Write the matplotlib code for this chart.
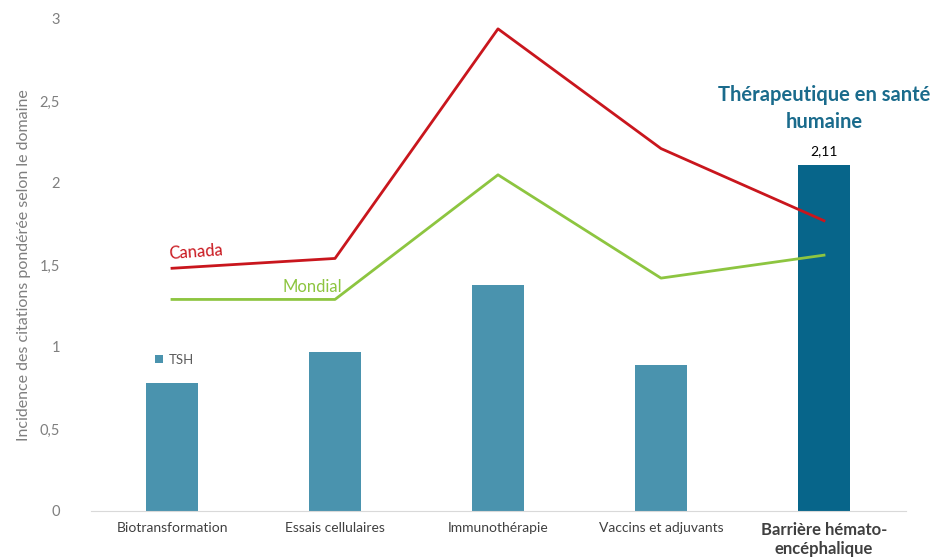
import numpy as np
import matplotlib.pyplot as plt

# donnees
categories = ["Biotransformation", "Essais cellulaires", "Immunothérapie",
              "Vaccins et adjuvants", "Barrière hémato-\nencéphalique"]
tsh = [0.78, 0.97, 1.38, 0.89, 2.11]
canada = [1.48, 1.54, 2.94, 2.21, 1.77]
mondial = [1.29, 1.29, 2.05, 1.42, 1.56]

bar_color = "#4A93AE"
hl_color = "#07658A"
red = "#C9161D"
green = "#8DC540"
grey = "#7F7F7F"

plt.rcParams['font.family'] = ['Lato', 'DejaVu Sans']

fig = plt.figure(figsize=(9.38, 5.58), dpi=100)
ax = fig.add_axes([90.5 / 938, 47 / 558, 815 / 938, 492 / 558])

x = np.arange(len(categories))
colors = [bar_color] * 4 + [hl_color]
bars = ax.bar(x, tsh, width=0.32, color=colors, label="TSH", zorder=2)
ax.plot(x, canada, color=red, lw=2, zorder=3)
ax.plot(x, mondial, color=green, lw=2, zorder=3)

ax.set_xlim(-0.5, 4.5)
ax.set_ylim(0, 3)
ax.set_yticks([0, 0.5, 1, 1.5, 2, 2.5, 3])
ax.set_yticklabels(["0", "0,5", "1", "1,5", "2", "2,5", "3"])
ax.set_xticks(x)
ax.set_xticklabels(categories)

for s in ["top", "right", "left"]:
    ax.spines[s].set_visible(False)
ax.spines["bottom"].set_color("#D9D9D9")
ax.tick_params(axis="y", length=0, labelsize=10.5, labelcolor=grey, pad=22)
ax.tick_params(axis="x", length=0, labelsize=10, labelcolor="#404040", pad=8)
lbls = ax.get_xticklabels()
lbls[-1].set_fontweight("bold")
lbls[-1].set_fontsize(12)
lbls[-1].set_color("#404040")

ax.set_ylabel("Incidence des citations pondérée selon le domaine", color=grey, fontsize=11.5, labelpad=6)

# etiquettes
ax.text(4, 2.11 + 0.05, "2,11", ha="center", va="bottom", fontsize=10, color="black")
ax.text(4, 2.31, "Thérapeutique en santé\nhumaine", ha="center", va="bottom",
        fontsize=14.5, fontweight="bold", color="#1A6B8C", linespacing=1.45)
ax.text(-0.02, 1.52, "Canada", color=red, fontsize=12, rotation=4, ha="left", va="bottom")
ax.text(0.68, 1.32, "Mondial", color=green, fontsize=12, ha="left", va="bottom")

ax.legend(handles=[bars[0]], labels=["TSH"], loc="upper left", bbox_to_anchor=(0.065, 1.0 - 1.97 / 3),
          frameon=False, fontsize=9.5, handlelength=0.6, handleheight=0.6, handletextpad=0.4,
          labelcolor="#595959")

fig.savefig("out.png", dpi=100)
